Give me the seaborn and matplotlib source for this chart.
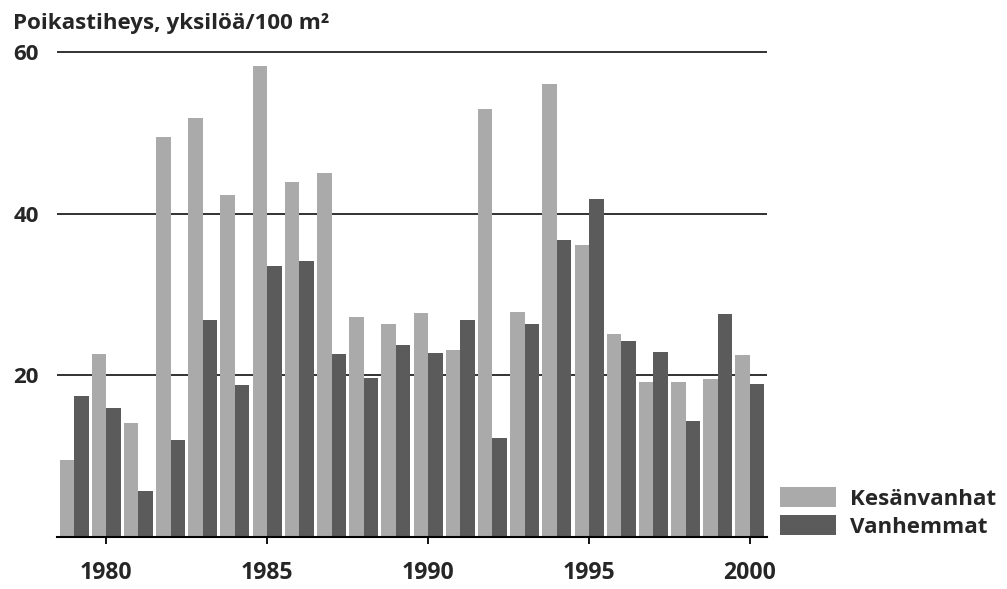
import matplotlib
matplotlib.use("Agg")
import matplotlib.pyplot as plt
import seaborn as sns
import pandas as pd
from matplotlib.patches import Patch

years = list(range(1979, 2001))
kesanvanhat = [9.5, 22.7, 14.1, 49.5, 51.8, 42.3, 58.3, 43.9, 45.0, 27.2, 26.4,
               27.7, 23.1, 53.0, 27.9, 56.0, 36.1, 25.1, 19.2, 19.2, 19.6, 22.5]
vanhemmat = [17.5, 16.0, 5.7, 12.0, 26.9, 18.75, 33.5, 34.2, 22.7, 19.7, 23.7,
             22.8, 26.8, 12.3, 26.4, 36.7, 41.8, 24.2, 22.9, 14.4, 27.6, 18.9]
series_names = ["Kesänvanhat", "Vanhemmat"]
colors = ["#aaaaaa", "#5b5b5b"]
tick_years = [1980, 1985, 1990, 1995, 2000]
yticks = [20, 40, 60]
title = "Poikastiheys, yksilöä/100 m²"

df = pd.DataFrame({
    "year": years * 2,
    "value": kesanvanhat + vanhemmat,
    "series": [series_names[0]] * len(years) + [series_names[1]] * len(years),
})

sns.set_theme(style="white")
plt.rcParams["font.family"] = ["Open Sans", "DejaVu Sans"]
FS = 16.1
W = "bold"

fig = plt.figure(figsize=(10.07, 5.89), dpi=100)
ax = fig.add_axes([57 / 1007, 1 - 537 / 589, (767 - 57) / 1007, (537 - 44) / 589])

sns.barplot(data=df, x="year", y="value", hue="series", palette=colors,
            width=0.9, ax=ax, legend=False, saturation=1, linewidth=0, zorder=2)

ax.set_xlim(-0.53, len(years) - 0.47)
ax.set_ylim(0, 61)
ax.set_yticks(yticks)
ax.set_yticklabels([str(v) for v in yticks], fontsize=FS, fontweight=W)
ax.set_xticks([years.index(y) for y in tick_years])
ax.set_xticklabels([str(y) for y in tick_years], fontsize=FS + 0.5, fontweight=W)
ax.tick_params(axis="y", length=0, pad=13)
ax.tick_params(axis="x", length=5, width=1.3, color="black", pad=12, direction="out",
               bottom=True)
ax.set_xlabel("")
ax.set_ylabel("")
ax.yaxis.grid(True, color="#222222", linewidth=1.3, zorder=0)
ax.xaxis.grid(False)
ax.set_axisbelow(True)
for s in ["top", "right", "left"]:
    ax.spines[s].set_visible(False)
ax.spines["bottom"].set_color("black")
ax.spines["bottom"].set_linewidth(1.5)
ax.spines["bottom"].set_zorder(5)

fig.text(13 / 1007, 1 - 29 / 589, title, fontsize=FS, fontweight=W,
         ha="left", va="baseline")

handles = [Patch(facecolor=c, edgecolor="none") for c in colors]
fig.legend(handles, series_names, loc="lower left",
           bbox_to_anchor=(780 / 1007, 1 - 538 / 589), frameon=False,
           prop={"weight": W, "size": FS},
           handlelength=2.5, handleheight=1.0, handletextpad=0.65,
           labelspacing=0.25, borderpad=0, borderaxespad=0)

fig.savefig("out.png", dpi=100, facecolor="white")
